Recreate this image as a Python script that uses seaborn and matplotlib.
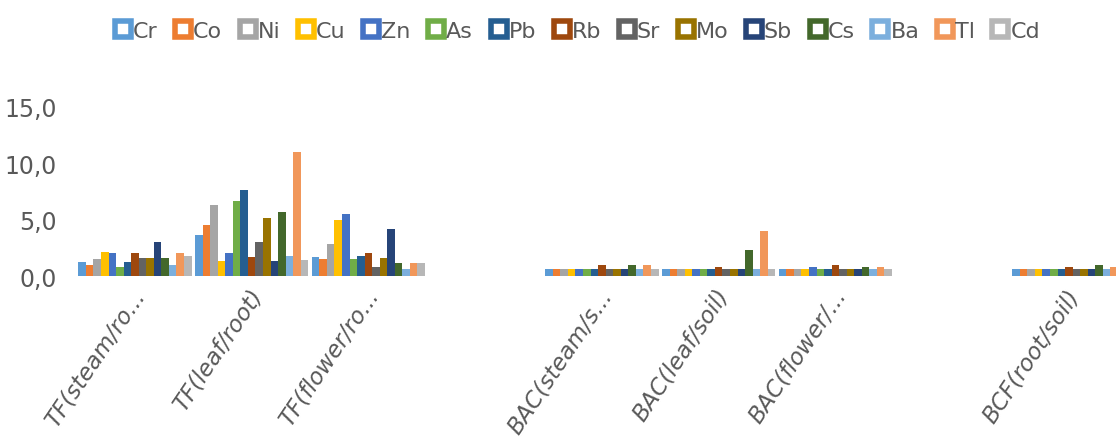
import matplotlib
matplotlib.use('Agg')
import matplotlib.pyplot as plt
import matplotlib.transforms as mtransforms
import seaborn as sns
import pandas as pd
from matplotlib.lines import Line2D
from matplotlib.ticker import FuncFormatter

# series and colours (Excel office palette)
elements = ['Cr', 'Co', 'Ni', 'Cu', 'Zn', 'As', 'Pb', 'Rb', 'Sr', 'Mo', 'Sb', 'Cs', 'Ba', 'Tl', 'Cd']
colors = ['#5B9BD5', '#ED7D31', '#A5A5A5', '#FFC000', '#4472C4', '#70AD47', '#255E91', '#9E480E',
          '#636363', '#997300', '#264478', '#43682B', '#7CAFDD', '#F1975A', '#B7B7B7']

# category keys (two empty slots) and their shown labels
cat_keys = ['tf_steam', 'tf_leaf', 'tf_flower', 'gap1', 'bac_steam', 'bac_leaf', 'bac_flower', 'gap2', 'bcf_root']
cat_labels = ['TF(steam/ro...', 'TF(leaf/root)', 'TF(flower/ro...', '', 'BAC(steam/s...',
              'BAC(leaf/soil)', 'BAC(flower/...', '', 'BCF(root/soil)']

# values per category, in element order
tf_steam = [1.2, 1.0, 1.5, 2.15, 2.0, 0.8, 1.2, 2.0, 1.6, 1.6, 3.0, 1.6, 1.0, 2.0, 1.8]
tf_leaf = [3.65, 4.5, 6.3, 1.3, 2.0, 6.7, 7.65, 1.65, 3.0, 5.15, 1.3, 5.7, 1.8, 11.0, 1.45]
tf_flower = [1.7, 1.5, 2.8, 5.0, 5.5, 1.5, 1.8, 2.0, 0.8, 1.6, 4.2, 1.15, 0.6, 1.15, 1.15]
bac_steam = [0.62, 0.62, 0.62, 0.62, 0.62, 0.62, 0.62, 0.97, 0.62, 0.62, 0.62, 0.97, 0.62, 0.97, 0.62]
bac_leaf = [0.6, 0.6, 0.6, 0.6, 0.6, 0.6, 0.6, 0.8, 0.6, 0.6, 0.6, 2.3, 0.6, 4.0, 0.6]
bac_flower = [0.62, 0.62, 0.62, 0.62, 0.82, 0.62, 0.62, 0.97, 0.62, 0.62, 0.62, 0.8, 0.62, 0.8, 0.62]
bcf_root = [0.62, 0.62, 0.62, 0.62, 0.62, 0.62, 0.62, 0.8, 0.62, 0.62, 0.62, 0.95, 0.62, 0.8, 0.62]

rows = []
for key, vals in [('tf_steam', tf_steam), ('tf_leaf', tf_leaf), ('tf_flower', tf_flower),
                  ('bac_steam', bac_steam), ('bac_leaf', bac_leaf), ('bac_flower', bac_flower),
                  ('bcf_root', bcf_root)]:
    for el, v in zip(elements, vals):
        rows.append({'cat': key, 'element': el, 'value': v})
df = pd.DataFrame(rows)

plt.rcParams['font.family'] = ['DejaVu Sans']
text_color = '#595959'

fig = plt.figure(figsize=(11.16, 4.39), dpi=100)
ax = fig.add_axes([0.0686, 0.369, 0.9415, 0.385])

sns.barplot(data=df, x='cat', y='value', hue='element', order=cat_keys, hue_order=elements,
            palette=dict(zip(elements, colors)), width=0.97, dodge=True, legend=False,
            saturation=1, errorbar=None, ax=ax)

ax.set_xlim(-0.5, 8.5)
ax.set_ylim(0, 15)
ax.set_yticks([0, 5, 10, 15])
ax.yaxis.set_major_formatter(FuncFormatter(lambda v, p: f'{v:.1f}'.replace('.', ',')))
ax.set_xlabel('')
ax.set_ylabel('')
for s in ax.spines.values():
    s.set_visible(False)
ax.tick_params(axis='y', length=0, pad=14, labelsize=17, labelcolor=text_color)
ax.tick_params(axis='x', length=0, pad=6)
ax.set_xticks(range(len(cat_keys)))
ax.set_xticklabels(cat_labels, rotation=56, ha='right', va='top', rotation_mode='anchor',
                   fontsize=16.5, color=text_color, style='italic')
offset = mtransforms.ScaledTranslation(-4 / 100, 0, fig.dpi_scale_trans)
for lbl in ax.get_xticklabels():
    lbl.set_transform(lbl.get_transform() + offset)

handles = [Line2D([0], [0], marker='s', linestyle='none', markersize=12, markerfacecolor='white',
                  markeredgecolor=c, markeredgewidth=4) for c in colors]
fig.legend(handles, elements, loc='center', bbox_to_anchor=(0.518, 0.927), ncol=15, frameon=False,
           fontsize=16, labelcolor=text_color, handlelength=0.6, handletextpad=0.15, columnspacing=0.85)

fig.savefig('out.png', dpi=100)
